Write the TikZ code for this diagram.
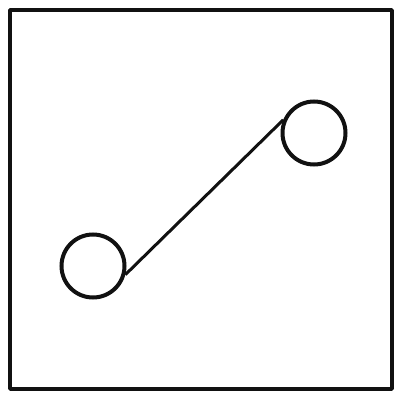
\documentclass[tikz,border=0pt]{standalone}
\usepackage{tikz}
\usetikzlibrary{positioning}
\definecolor{skink}{HTML}{111111}
\tikzset{
  frame/.style={draw=skink,line width=3.5pt,line cap=round,line join=round},
  ring/.style={circle,draw=skink,line width=4pt,minimum size=63pt,inner sep=0pt},
  link/.style={draw=skink,line width=3pt},
}
\begin{document}
\begin{tikzpicture}[x=1pt,y=-1pt]
  \useasboundingbox (0,0) rectangle (398,398);
  \draw[frame] (10,10) rectangle (392,389);
  \node[ring] (lring) at (93,266) {};
  \node[ring] (rring) at (314,133) {};
  \draw[link] (lring.-15) -- (rring.157);
\end{tikzpicture}
\end{document}
